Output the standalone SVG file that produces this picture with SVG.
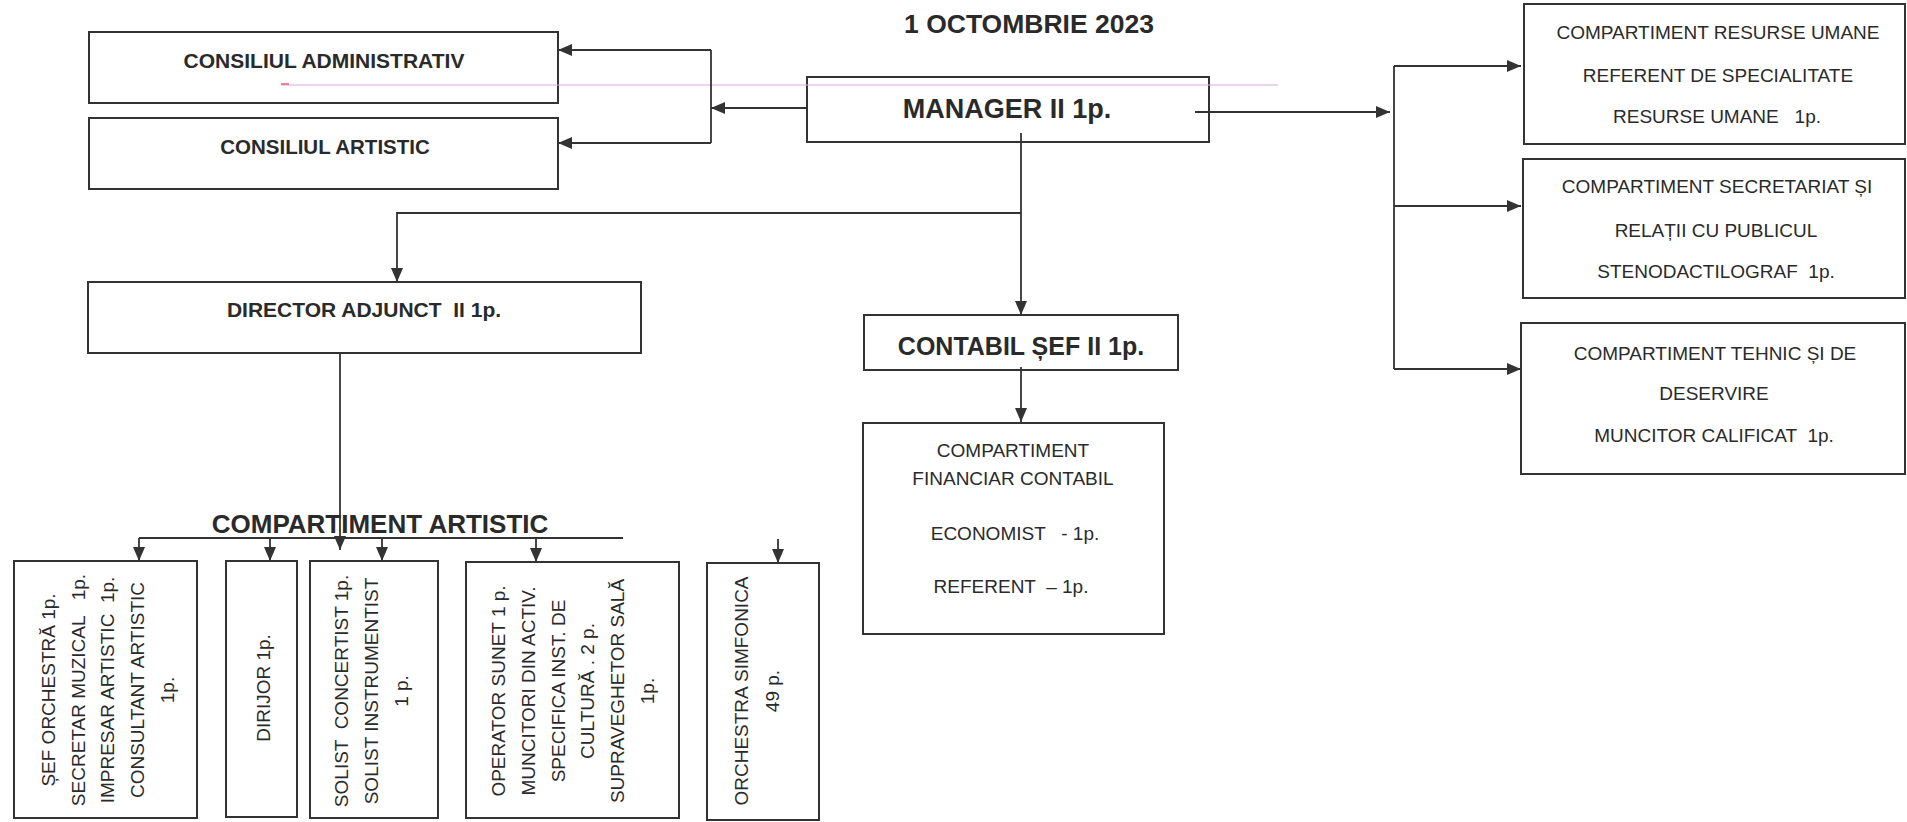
<svg xmlns="http://www.w3.org/2000/svg" width="1907" height="822" viewBox="0 0 1907 822">
<style>
.box{fill:#fff;stroke:#333;stroke-width:2}
.t{font-family:"Liberation Sans",Arial,sans-serif;fill:#2a2a2a;text-anchor:middle;white-space:pre}
.b{font-weight:bold}
.r{font-size:19px}
.c{fill:none;stroke:#333;stroke-width:1.8}
.a{marker-end:url(#ah)}
</style>
<defs>
<marker id="ah" viewBox="0 0 14 12" refX="14" refY="6" markerWidth="14" markerHeight="12" markerUnits="userSpaceOnUse" orient="auto"><path d="M0,0 L14,6 L0,12 z" fill="#333"/></marker>
</defs>
<rect width="1907" height="822" fill="#fff"/>

<text id="title" class="t b" x="1029" y="33" font-size="26.5">1 OCTOMBRIE 2023</text>

<g id="consiliul-administrativ">
<rect class="box" x="89" y="32" width="469" height="71"/>
<text class="t b" x="324" y="68" font-size="21">CONSILIUL ADMINISTRATIV</text>
</g>
<g id="consiliul-artistic">
<rect class="box" x="89" y="118" width="469" height="71"/>
<text class="t b" x="325" y="154" font-size="20.5">CONSILIUL ARTISTIC</text>
</g>
<g id="manager">
<rect class="box" x="807" y="77" width="402" height="65"/>
<text class="t b" x="1007" y="118" font-size="27">MANAGER II 1p.</text>
</g>
<g id="resurse-umane">
<rect class="box" x="1524" y="4" width="381" height="140"/>
<text class="t r" x="1718" y="39">COMPARTIMENT RESURSE UMANE</text>
<text class="t r" x="1718" y="82">REFERENT DE SPECIALITATE</text>
<text class="t r" x="1717" y="123">RESURSE UMANE   1p.</text>
</g>
<g id="secretariat">
<rect class="box" x="1523" y="159" width="382" height="139"/>
<text class="t r" x="1717" y="193">COMPARTIMENT SECRETARIAT ȘI</text>
<text class="t r" x="1716" y="237">RELAȚII CU PUBLICUL</text>
<text class="t r" x="1716" y="278">STENODACTILOGRAF  1p.</text>
</g>
<g id="tehnic">
<rect class="box" x="1521" y="323" width="384" height="151"/>
<text class="t r" x="1715" y="360">COMPARTIMENT TEHNIC ȘI DE</text>
<text class="t r" x="1714" y="400">DESERVIRE</text>
<text class="t r" x="1714" y="442">MUNCITOR CALIFICAT  1p.</text>
</g>
<g id="director-adjunct">
<rect class="box" x="88" y="282" width="553" height="71"/>
<text class="t b" x="364" y="317" font-size="21">DIRECTOR ADJUNCT  II 1p.</text>
</g>
<g id="contabil-sef">
<rect class="box" x="864" y="315" width="314" height="55"/>
<text class="t b" x="1021" y="355" font-size="25">CONTABIL ȘEF II 1p.</text>
</g>
<g id="financiar-contabil">
<rect class="box" x="863" y="423" width="301" height="211"/>
<text class="t r" x="1013" y="457">COMPARTIMENT</text>
<text class="t r" x="1013" y="485">FINANCIAR CONTABIL</text>
<text class="t r" x="1015" y="540">ECONOMIST   - 1p.</text>
<text class="t r" x="1011" y="593">REFERENT  – 1p.</text>
</g>
<g id="compartiment-artistic">
<text class="t b" x="380" y="533" font-size="26">COMPARTIMENT ARTISTIC</text>
</g>
<g id="sef-orchestra">
<rect class="box" x="14" y="561" width="183" height="257"/>
<g transform="translate(0,690) rotate(-90)">
<text class="t r" x="0" y="55">ȘEF ORCHESTRĂ 1p.</text>
<text class="t r" x="0" y="85">SECRETAR MUZICAL   1p.</text>
<text class="t r" x="0" y="114">IMPRESAR ARTISTIC  1p.</text>
<text class="t r" x="0" y="144">CONSULTANT ARTISTIC</text>
<text class="t r" x="0" y="174">1p.</text>
</g>
</g>
<g id="dirijor">
<rect class="box" x="226" y="561" width="71" height="256"/>
<g transform="translate(0,688) rotate(-90)">
<text class="t r" x="0" y="270">DIRIJOR 1p.</text>
</g>
</g>
<g id="solist">
<rect class="box" x="310" y="561" width="128" height="257"/>
<g transform="translate(0,691) rotate(-90)">
<text class="t r" x="0" y="348">SOLIST  CONCERTIST 1p.</text>
<text class="t r" x="0" y="378">SOLIST INSTRUMENTIST</text>
<text class="t r" x="0" y="408">1 p.</text>
</g>
</g>
<g id="operator">
<rect class="box" x="466" y="562" width="213" height="256"/>
<g transform="translate(0,691) rotate(-90)">
<text class="t r" x="0" y="505">OPERATOR SUNET 1 p.</text>
<text class="t r" x="0" y="535">MUNCITORI DIN ACTIV.</text>
<text class="t r" x="0" y="565">SPECIFICA INST. DE</text>
<text class="t r" x="0" y="594">CULTURĂ . 2 p.</text>
<text class="t r" x="0" y="624">SUPRAVEGHETOR SALĂ</text>
<text class="t r" x="0" y="654">1p.</text>
</g>
</g>
<g id="orchestra-simfonica">
<rect class="box" x="707" y="563" width="112" height="257"/>
<g transform="translate(0,691) rotate(-90)">
<text class="t r" x="0" y="748">ORCHESTRA SIMFONICA</text>
<text class="t r" x="0" y="779">49 p.</text>
</g>
</g>

<g id="connectors">
<path class="c" d="M281,85 H1278" style="stroke:#dca8e4;stroke-width:1.2"/>
<path class="c" d="M281,84 H289" style="stroke:#e04040;stroke-width:1.2"/>
<path class="c a" d="M807,108 H711"/>
<path class="c" d="M711,50 V143"/>
<path class="c a" d="M711,50 H558"/>
<path class="c a" d="M711,143 H558"/>
<path class="c a" d="M1195,112 H1390"/>
<path class="c" d="M1394,66 V369"/>
<path class="c a" d="M1394,66 H1521"/>
<path class="c a" d="M1394,206 H1521"/>
<path class="c a" d="M1394,369 H1521"/>
<path class="c a" d="M1021,133 V315"/>
<path class="c a" d="M1021,213 H397 V282"/>
<path class="c a" d="M1021,367 V422"/>
<path class="c a" d="M340,353 V550"/>
<path class="c" d="M139,538 H623"/>
<path class="c a" d="M139,538 V561"/>
<path class="c a" d="M270,538 V561"/>
<path class="c a" d="M382,538 V561"/>
<path class="c a" d="M536,538 V562"/>
<path class="c a" d="M778,539 V563"/>
</g>
</svg>
